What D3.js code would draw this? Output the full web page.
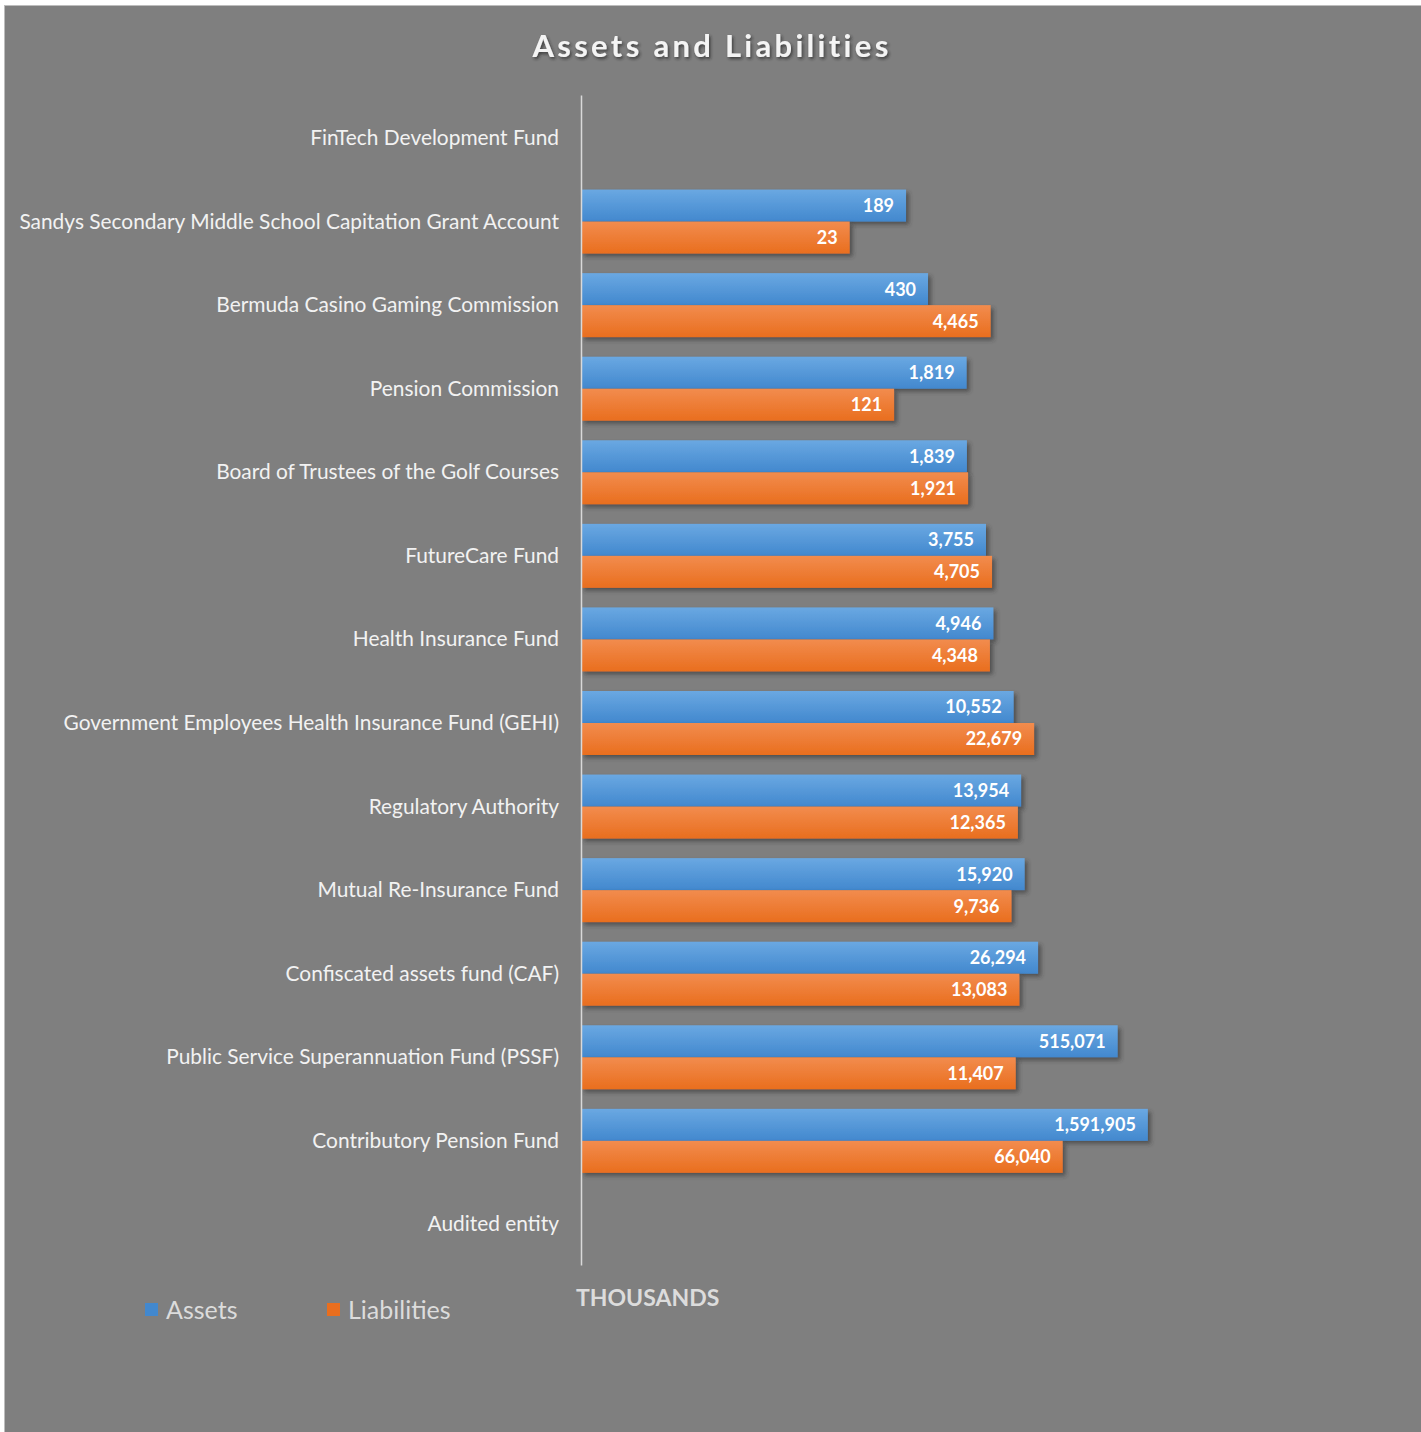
<!DOCTYPE html>
<html><head><meta charset="utf-8">
<script src="https://cdn.jsdelivr.net/npm/d3@7/dist/d3.min.js"></script>
<style>html,body{margin:0;padding:0;background:#fff;}svg{display:block;}</style>
</head><body>
<script>
const categories = ["FinTech Development Fund","Sandys Secondary Middle School Capitation Grant Account","Bermuda Casino Gaming Commission","Pension Commission","Board of Trustees of the Golf Courses","FutureCare Fund","Health Insurance Fund","Government Employees Health Insurance Fund (GEHI)","Regulatory Authority","Mutual Re-Insurance Fund","Confiscated assets fund (CAF)","Public Service Superannuation Fund (PSSF)","Contributory Pension Fund","Audited entity"];
const assets = [null,189,430,1819,1839,3755,4946,10552,13954,15920,26294,515071,1591905,null];
const liabilities = [null,23,4465,121,1921,4705,4348,22679,12365,9736,13083,11407,66040,null];
const seriesNames = ["Assets","Liabilities"];
const colors = {Assets:["#6aa8e2","#4288ce"], Liabilities:["#f28c4e","#e96e1e"]};

const W=1421,H=1432;
const svg=d3.select("body").append("svg").attr("width",W).attr("height",H);
const defs=svg.append("defs");
seriesNames.forEach(s=>{
  const g=defs.append("linearGradient").attr("id","g"+s).attr("x1",0).attr("y1",0).attr("x2",0).attr("y2",1);
  g.append("stop").attr("offset","0%").attr("stop-color",colors[s][0]);
  g.append("stop").attr("offset","100%").attr("stop-color",colors[s][1]);
});
const f=defs.append("filter").attr("id","sh").attr("x","-5%").attr("y","-20%").attr("width","120%").attr("height","160%");
f.append("feDropShadow").attr("dx",3).attr("dy",3).attr("stdDeviation",2).attr("flood-color","#333").attr("flood-opacity",0.6);
const ft=defs.append("filter").attr("id","tsh").attr("x","-10%").attr("y","-30%").attr("width","120%").attr("height","180%");
ft.append("feDropShadow").attr("dx",1.5).attr("dy",2).attr("stdDeviation",1.5).attr("flood-color","#222").attr("flood-opacity",0.7);

svg.append("rect").attr("x",5).attr("y",6).attr("width",W-5).attr("height",H-6).attr("fill","#7f7f7f");
svg.append("rect").attr("x",4.5).attr("y",5.5).attr("width",W).attr("height",H).attr("fill","none").attr("stroke","#bdbdbd").attr("stroke-width",1);

const font="Lato, 'Open Sans', sans-serif";
svg.append("text").attr("x",712).attr("y",57).attr("text-anchor","middle")
  .attr("font-family",font).attr("font-weight","bold").attr("font-size",31).attr("letter-spacing",3.3)
  .attr("fill","#f4f4f4").attr("filter","url(#tsh)").text("Assets and Liabilities");

const x=d3.scaleLog().domain([0.001,1e7]).range([581,581+10*61.6]);
const y0=d3.scaleBand().domain(categories).range([95,1265]).padding(0);
const y1=d3.scaleBand().domain(seriesNames).range([11,75]).padding(0);

const rows=categories.map((c,i)=>({cat:c,vals:[{s:"Assets",v:assets[i]},{s:"Liabilities",v:liabilities[i]}]}));
const fmt=d3.format(",");
const g=svg.append("g");
const rg=g.selectAll("g.row").data(rows).join("g").attr("transform",d=>`translate(0,${y0(d.cat)})`);
const bars=rg.selectAll("g.bar").data(d=>d.vals.filter(v=>v.v!=null)).join("g");
bars.append("rect").attr("x",x(0.001)).attr("y",d=>y1(d.s)).attr("width",d=>x(d.v)-x(0.001)).attr("height",y1.bandwidth())
  .attr("fill",d=>`url(#g${d.s})`).attr("filter","url(#sh)");
bars.append("text").attr("x",d=>x(d.v)-12).attr("y",d=>y1(d.s)+y1.bandwidth()/2).attr("dy","0.36em")
  .attr("text-anchor","end").attr("font-family",font).attr("font-weight","bold").attr("font-size",18).attr("fill","#fff").text(d=>fmt(d.v));

// axis
const ax=d3.axisLeft(y0).tickSize(0).tickPadding(22);
const axg=svg.append("g").attr("transform","translate(581,1.5)").call(ax);
axg.select(".domain").attr("stroke","#d9d9d9").attr("stroke-width",1.5).attr("transform","translate(0,-1.5)");
axg.selectAll("text").attr("font-family",font).attr("font-size",20.9).attr("fill","#f2f2f2");

svg.append("text").attr("x",576).attr("y",1306).attr("font-family",font).attr("font-weight","bold").attr("font-size",23).attr("fill","#dcdcdc").text("THOUSANDS");

const lx=[145,327];
const lg=svg.selectAll("g.leg").data(seriesNames).join("g").attr("transform",(d,i)=>`translate(${lx[i]},1303)`);
lg.append("rect").attr("width",13).attr("height",13).attr("fill",d=>colors[d][1]);
lg.append("text").attr("x",21).attr("y",16).attr("font-family",font).attr("font-size",25).attr("fill","#dcdcdc").text(d=>d);
</script>
</body></html>
